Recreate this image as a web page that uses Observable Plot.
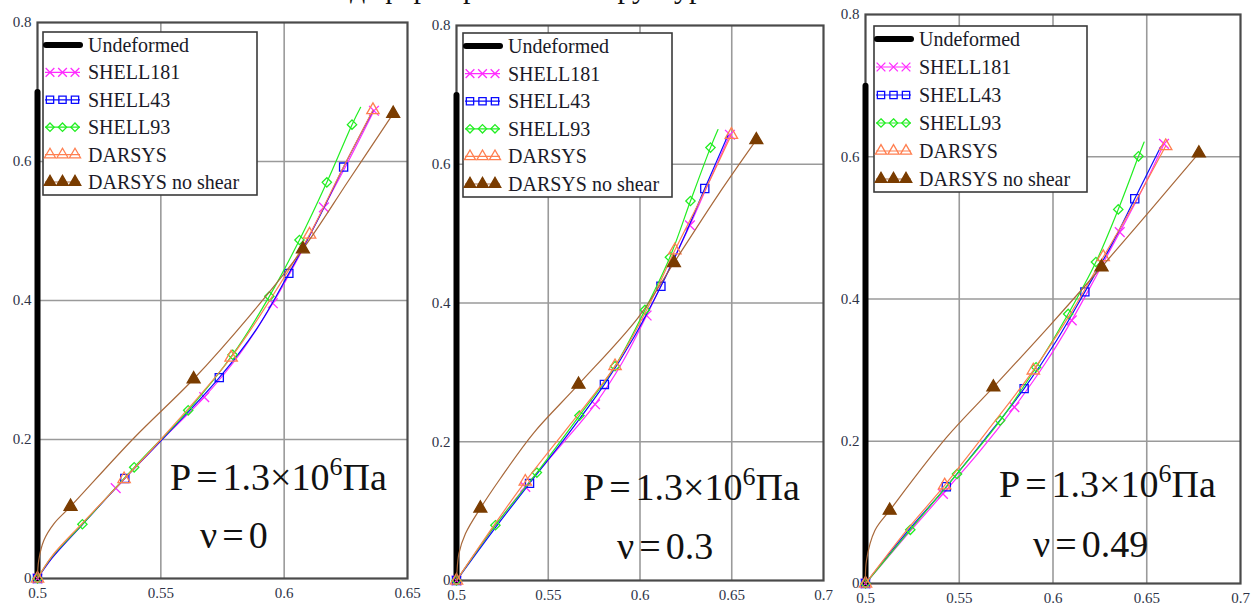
<!DOCTYPE html>
<html><head><meta charset="utf-8">
<script src="https://cdn.jsdelivr.net/npm/d3@7"></script>
<script src="https://cdn.jsdelivr.net/npm/@observablehq/plot@0.6"></script>
<style>
html,body{margin:0;padding:0;background:#fff;width:1256px;height:606px;overflow:hidden}
#wrap{position:relative;width:1256px;height:606px;overflow:hidden}
#wrap > svg{position:absolute;top:0}
#wrap text{font-family:"Liberation Serif","Times New Roman",serif !important}
</style></head><body><div id="wrap"></div>
<script>
// ---------- data ----------
const yTicks = [0, 0.2, 0.4, 0.6, 0.8];
const xTicks1 = [0.5, 0.55, 0.6, 0.65];
const xTicks2 = [0.5, 0.55, 0.6, 0.65, 0.7];
const undeformedX = [0.5, 0.5];
const undeformedY = [0, 0.7];
const seriesNames = ["SHELL181", "SHELL43", "SHELL93", "DARSYS", "DARSYS no shear"];
const legendNames = ["Undeformed", "SHELL181", "SHELL43", "SHELL93", "DARSYS", "DARSYS no shear"];
const pressureLabel = "1.3×10";
const nuLabels = ["0", "0.3", "0.49"];
const titleText = "деформированной структуры";

// panel nu = 0
const nu0_shell181 = [[0.5,0],[0.506,0.03],[0.518,0.077],[0.5317,0.130],[0.55,0.198],[0.5676,0.261],[0.582,0.323],[0.5954,0.396],[0.6055,0.46],[0.6161,0.534],[0.6264,0.603],[0.6364,0.673]];
const nu0_shell181_m = [[0.5,0],[0.5317,0.130],[0.5676,0.261],[0.5954,0.396],[0.6161,0.534],[0.6364,0.673]];
const nu0_shell43 = [[0.5,0],[0.506,0.03],[0.518,0.077],[0.5354,0.144],[0.55,0.198],[0.5737,0.289],[0.589,0.36],[0.6019,0.439],[0.6135,0.515],[0.6241,0.592],[0.636,0.673]];
const nu0_shell43_m = [[0.5,0],[0.5354,0.144],[0.5737,0.289],[0.6019,0.439],[0.6241,0.592]];
const nu0_shell93 = [[0.5,0],[0.5058,0.031],[0.5182,0.078],[0.5392,0.160],[0.5611,0.242],[0.5791,0.322],[0.594,0.406],[0.6062,0.487],[0.6173,0.570],[0.6275,0.653],[0.6310,0.678]];
const nu0_shell93_m = [[0.5,0],[0.5182,0.078],[0.5392,0.160],[0.5611,0.242],[0.5791,0.322],[0.594,0.406],[0.6062,0.487],[0.6173,0.570],[0.6275,0.653]];
const nu0_darsys = [[0.5,0],[0.5058,0.032],[0.518,0.079],[0.5351,0.143],[0.55,0.2],[0.5785,0.318],[0.595,0.405],[0.6103,0.495],[0.623,0.585],[0.636,0.674]];
const nu0_darsys_m = [[0.5,0],[0.5351,0.143],[0.5785,0.318],[0.6103,0.495],[0.636,0.674]];
const nu0_noshear = [[0.5,0],[0.5005,0.026],[0.5026,0.055],[0.5067,0.079],[0.5134,0.1036],[0.5392,0.2025],[0.5633,0.287],[0.586,0.378],[0.6076,0.474],[0.626,0.572],[0.6442,0.669]];
const nu0_noshear_m = [[0.5134,0.1036],[0.5633,0.287],[0.6076,0.474],[0.6442,0.669]];

// panel nu = 0.3
const nu03_shell181 = [[0.5,0],[0.52,0.075],[0.5375,0.135],[0.557,0.195],[0.5755,0.254],[0.5905,0.315],[0.6036,0.382],[0.6155,0.447],[0.6272,0.512],[0.638,0.577],[0.649,0.6425]];
const nu03_shell181_m = [[0.5,0],[0.5375,0.135],[0.5755,0.254],[0.6036,0.382],[0.6272,0.512],[0.649,0.6425]];
const nu03_shell43 = [[0.5,0],[0.52,0.072],[0.5398,0.140],[0.56,0.208],[0.5806,0.2826],[0.597,0.352],[0.6114,0.424],[0.624,0.495],[0.6353,0.565],[0.648,0.642]];
const nu03_shell43_m = [[0.5,0],[0.5398,0.140],[0.5806,0.2826],[0.6114,0.424],[0.6353,0.565]];
const nu03_shell93 = [[0.5,0],[0.5212,0.0797],[0.5438,0.1555],[0.567,0.2377],[0.5864,0.309],[0.6027,0.390],[0.6163,0.466],[0.6275,0.547],[0.6384,0.624],[0.6425,0.650]];
const nu03_shell93_m = [[0.5,0],[0.5212,0.0797],[0.5438,0.1555],[0.567,0.2377],[0.5864,0.309],[0.6027,0.390],[0.6163,0.466],[0.6275,0.547],[0.6384,0.624]];
const nu03_darsys = [[0.5,0],[0.52,0.078],[0.5375,0.1425],[0.562,0.225],[0.5864,0.309],[0.604,0.392],[0.619,0.476],[0.635,0.56],[0.6498,0.6425]];
const nu03_darsys_m = [[0.5,0],[0.5375,0.1425],[0.5864,0.309],[0.619,0.476],[0.6498,0.6425]];
const nu03_noshear = [[0.5,0],[0.5002,0.01],[0.5013,0.0386],[0.5049,0.0676],[0.513,0.104],[0.5239,0.147],[0.542,0.2126],[0.5665,0.2826],[0.599,0.379],[0.6185,0.458],[0.6425,0.5555],[0.6634,0.635]];
const nu03_noshear_m = [[0.513,0.104],[0.5665,0.2826],[0.6185,0.458],[0.6634,0.635]];

// panel nu = 0.49
const nu049_shell181 = [[0.5,0],[0.522,0.068],[0.5413,0.126],[0.561,0.186],[0.5794,0.248],[0.596,0.31],[0.61,0.37],[0.623,0.432],[0.6356,0.494],[0.648,0.556],[0.6592,0.618]];
const nu049_shell181_m = [[0.5,0],[0.5413,0.126],[0.5794,0.248],[0.61,0.37],[0.6356,0.494],[0.6592,0.618]];
const nu049_shell43 = [[0.5,0],[0.522,0.072],[0.5431,0.136],[0.564,0.204],[0.5846,0.274],[0.602,0.342],[0.617,0.41],[0.631,0.475],[0.6436,0.541],[0.6574,0.6137]];
const nu049_shell43_m = [[0.5,0],[0.5431,0.136],[0.5846,0.274],[0.617,0.41],[0.6436,0.541]];
const nu049_shell93 = [[0.5,0],[0.5239,0.0755],[0.5488,0.154],[0.5718,0.229],[0.591,0.304],[0.6081,0.379],[0.6229,0.452],[0.6348,0.526],[0.6456,0.6006],[0.6486,0.6207]];
const nu049_shell93_m = [[0.5,0],[0.5239,0.0755],[0.5488,0.154],[0.5718,0.229],[0.591,0.304],[0.6081,0.379],[0.6229,0.452],[0.6348,0.526],[0.6456,0.6006]];
const nu049_darsys = [[0.5,0],[0.522,0.075],[0.5422,0.138],[0.566,0.218],[0.5895,0.2996],[0.609,0.378],[0.6268,0.459],[0.644,0.537],[0.6601,0.615]];
const nu049_darsys_m = [[0.5,0],[0.5422,0.138],[0.5895,0.2996],[0.6268,0.459],[0.6601,0.615]];
const nu049_noshear = [[0.5,0],[0.5005,0.032],[0.505,0.0745],[0.5129,0.1027],[0.5431,0.205],[0.5682,0.276],[0.5984,0.363],[0.6259,0.445],[0.652,0.525],[0.6778,0.605]];
const nu049_noshear_m = [[0.5129,0.1027],[0.5682,0.276],[0.6259,0.445],[0.6778,0.605]];

// ---------- styles ----------
const serif = "'Liberation Serif','Times New Roman',serif";
const styles = {
  "SHELL181": {color:"#ff2cff", mcolor:"#ff2cff", symbol:"times", fill:"none", r:4.5},
  "SHELL43": {color:"#0a0aff", mcolor:"#0a0aff", symbol:"square", fill:"none", r:4.6},
  "SHELL93": {color:"#22ee22", mcolor:"#22ee22", symbol:"diamond2", fill:"none", r:4.2},
  "DARSYS": {color:"#ff7f50", mcolor:"#ff7f50", symbol:"triangle", fill:"none", r:4.6},
  "DARSYS no shear": {color:"#a8683a", mcolor:"#7a3c00", symbol:"triangle", fill:"#7a3c00", r:4.8}
};
const fmt = d => String(+d.toFixed(2));
const tickColor = "#2e3347";

const panels = [
  {left:0, width:420, ml:37, mr:13, mt:22, mb:28, xMax:0.65, xTicks:xTicks1,
   series:[[nu0_shell181,nu0_shell181_m],[nu0_shell43,nu0_shell43_m],[nu0_shell93,nu0_shell93_m],[nu0_darsys,nu0_darsys_m],[nu0_noshear,nu0_noshear_m]],
   legend:{x:43,y:32,w:214,h:163}, ptext:{x:170,y:490}, nutext:{x:200,y:548}},
  {left:420, width:416, ml:36, mr:13, mt:25, mb:26, xMax:0.7, xTicks:xTicks2,
   series:[[nu03_shell181,nu03_shell181_m],[nu03_shell43,nu03_shell43_m],[nu03_shell93,nu03_shell93_m],[nu03_darsys,nu03_darsys_m],[nu03_noshear,nu03_noshear_m]],
   legend:{x:463,y:33,w:209,h:164}, ptext:{x:583,y:500}, nutext:{x:617,y:559}},
  {left:836, width:420, ml:29, mr:16, mt:14, mb:23, xMax:0.7, xTicks:xTicks2,
   series:[[nu049_shell181,nu049_shell181_m],[nu049_shell43,nu049_shell43_m],[nu049_shell93,nu049_shell93_m],[nu049_darsys,nu049_darsys_m],[nu049_noshear,nu049_noshear_m]],
   legend:{x:874,y:26,w:213,h:166}, ptext:{x:999,y:497}, nutext:{x:1033,y:557}}
];

const wrap = document.getElementById("wrap");
const undeformed = undeformedX.map((x, i) => ({x, y: undeformedY[i]}));

panels.forEach(p => {
  const marks = [
    Plot.gridX(p.xTicks.filter(t => t > 0.5 && t < p.xMax), {stroke:"#9a9a9a", strokeOpacity:1, strokeWidth:1.6}),
    Plot.gridY([0.2, 0.4, 0.6], {stroke:"#9a9a9a", strokeOpacity:1, strokeWidth:1.6}),
    Plot.frame({stroke:"#4a4a4a", strokeWidth:2.2}),
    Plot.axisX(p.xTicks, {tickSize:0, tickPadding:9, tickFormat:fmt, fontSize:15, fill:tickColor, label:null}),
    Plot.axisY(yTicks, {tickSize:0, tickPadding:6, tickFormat:fmt, fontSize:15, fill:tickColor, label:null}),
    Plot.line(undeformed, {x:"x", y:"y", stroke:"black", strokeWidth:6})
  ];
  p.series.forEach(([pts, mk], i) => {
    const s = styles[seriesNames[i]];
    marks.push(Plot.line(pts, {x:d => d[0], y:d => d[1], stroke:s.color, strokeWidth:1.2, curve:"catmull-rom"}));
    marks.push(Plot.dot(mk, {x:d => d[0], y:d => d[1], symbol:s.symbol, r:s.r, stroke:s.mcolor, fill:s.fill, strokeWidth:1.3}));
  });
  const chart = Plot.plot({
    width:p.width, height:606,
    marginLeft:p.ml, marginRight:p.mr, marginTop:p.mt, marginBottom:p.mb,
    x:{domain:[0.5, p.xMax], label:null},
    y:{domain:[0, 0.8], label:null},
    style:{background:"transparent", overflow:"visible", fontFamily:serif, fontSize:"15px"},
    marks
  });
  chart.style.left = p.left + "px";
  wrap.appendChild(chart);
});

// ---------- overlay: legends, annotations, title ----------
const ov = d3.select(wrap).append("svg")
  .attr("width", 1256).attr("height", 606)
  .style("left", "0px")
  .style("font-family", serif);

ov.append("text").attr("x", 350).attr("y", -2).attr("font-size", 30).attr("fill", "#111").text(titleText);

const symMap = {times:d3.symbolTimes, square:d3.symbolSquare, diamond2:d3.symbolDiamond2, triangle:d3.symbolTriangle};
panels.forEach((p, pi) => {
  const L = p.legend;
  const g = ov.append("g").attr("transform", `translate(${L.x},${L.y})`);
  g.append("rect").attr("width", L.w).attr("height", L.h).attr("fill", "white").attr("stroke", "#3a3a3a").attr("stroke-width", 1.6);
  const step = (L.h - 26) / 5;
  legendNames.forEach((name, i) => {
    const cy = 13 + step * i;
    if (i === 0) {
      g.append("line").attr("x1", 3).attr("x2", 37).attr("y1", cy).attr("y2", cy).attr("stroke", "black").attr("stroke-width", 6).attr("stroke-linecap", "round");
    } else {
      const s = styles[name];
      g.append("line").attr("x1", 2).attr("x2", 37).attr("y1", cy).attr("y2", cy).attr("stroke", s.color).attr("stroke-width", 1.2);
      [7, 19.5, 32].forEach(sx => {
        g.append("path").attr("d", d3.symbol(symMap[s.symbol], Math.PI * s.r * s.r * 0.8)())
          .attr("transform", `translate(${sx},${cy})`)
          .attr("fill", s.fill).attr("stroke", s.mcolor).attr("stroke-width", 1.3);
      });
    }
    g.append("text").attr("x", 45).attr("y", cy + 7).attr("font-size", 20).attr("fill", "#1a1a28").text(name);
  });
  const pt = ov.append("text").attr("x", p.ptext.x).attr("y", p.ptext.y).attr("font-size", 38).attr("fill", "#111");
  pt.append("tspan").text("P");
  pt.append("tspan").attr("dx", 5).text("=");
  pt.append("tspan").attr("dx", 5).text(pressureLabel);
  pt.append("tspan").attr("dy", -15).attr("font-size", 26).text("6");
  pt.append("tspan").attr("dy", 15).text("Па");
  const nt = ov.append("text").attr("x", p.nutext.x).attr("y", p.nutext.y).attr("font-size", 38).attr("fill", "#111");
  nt.append("tspan").text("ν");
  nt.append("tspan").attr("dx", 5).text("=");
  nt.append("tspan").attr("dx", 5).text(nuLabels[pi]);
});
</script></body></html>
